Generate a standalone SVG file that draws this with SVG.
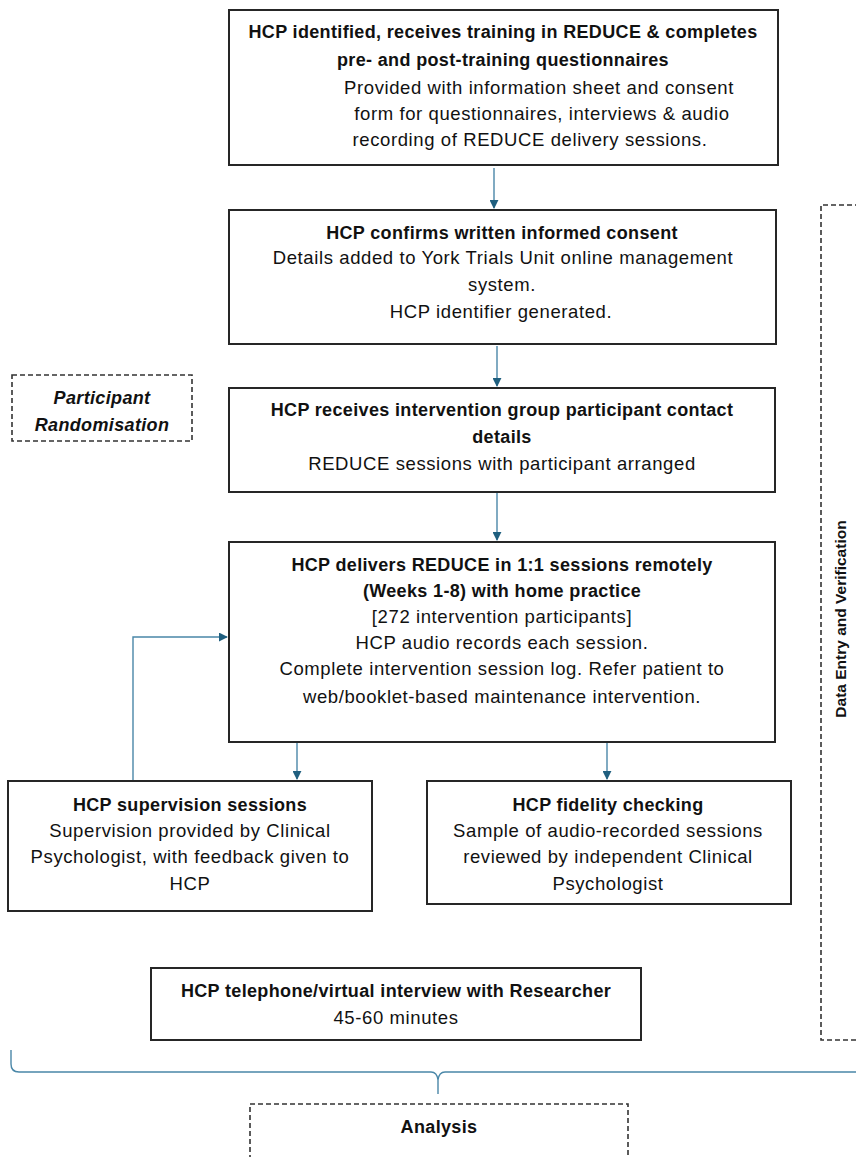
<svg xmlns="http://www.w3.org/2000/svg" width="856" height="1157" viewBox="0 0 856 1157">
<defs>
<style>
.box{fill:#fff;stroke:#262626;stroke-width:2}
.dash{fill:#fff;stroke:#333;stroke-width:1.6;stroke-dasharray:5,3}
.t{font-family:"Liberation Sans",Arial,sans-serif;font-size:18.5px;letter-spacing:0.6px;fill:#111;text-anchor:middle}
.b{font-weight:bold;font-size:18px;letter-spacing:0.35px}
.con{fill:none;stroke:#4a87a8;stroke-width:1.4}
</style>
<marker id="ah" viewBox="0 0 10 10" refX="9" refY="5" markerWidth="9" markerHeight="9" markerUnits="userSpaceOnUse" orient="auto">
<path d="M0,0 L10,5 L0,10 z" fill="#1f5f7f"/>
</marker>
</defs>
<rect width="856" height="1157" fill="#fff"/>

<g id="connectors">
<line class="con" x1="494" y1="168" x2="494" y2="208" marker-end="url(#ah)"/>
<line class="con" x1="497" y1="346" x2="497" y2="386" marker-end="url(#ah)"/>
<line class="con" x1="497" y1="493" x2="497" y2="540" marker-end="url(#ah)"/>
<polyline class="con" points="133,780 133,637 227,637" marker-end="url(#ah)"/>
<line class="con" x1="297" y1="743" x2="297" y2="779" marker-end="url(#ah)"/>
<line class="con" x1="607" y1="743" x2="607" y2="779" marker-end="url(#ah)"/>
<path class="con" d="M11,1050 L11,1064 Q11,1072 19,1072 L431,1072 Q437,1072 438,1080 L438,1094 M438,1080 Q439,1072 445,1072 L856,1072"/>
</g>

<g id="n1">
<rect class="box" x="229" y="10" width="549" height="155"/>
<text class="t b" x="503" y="38">HCP identified, receives training in REDUCE &amp; completes</text>
<text class="t b" x="503" y="66">pre- and post-training questionnaires</text>
<text class="t" x="539" y="94">Provided with information sheet and consent</text>
<text class="t" x="542" y="120">form for questionnaires, interviews &amp; audio</text>
<text class="t" x="530" y="146">recording of REDUCE delivery sessions.</text>
</g>

<g id="n2">
<rect class="box" x="229" y="210" width="547" height="134"/>
<text class="t b" x="502" y="239">HCP confirms written informed consent</text>
<text class="t" x="503" y="264">Details added to York Trials Unit online management</text>
<text class="t" x="502" y="291">system.</text>
<text class="t" x="501" y="318">HCP identifier generated.</text>
</g>

<g id="n_rand">
<rect class="dash" x="12" y="375" width="180" height="66"/>
<text class="t b" x="102" y="404" font-style="italic">Participant</text>
<text class="t b" x="102" y="431" font-style="italic">Randomisation</text>
</g>

<g id="n3">
<rect class="box" x="229" y="388" width="546" height="104"/>
<text class="t b" x="502" y="416">HCP receives intervention group participant contact</text>
<text class="t b" x="502" y="443">details</text>
<text class="t" x="502" y="470">REDUCE sessions with participant arranged</text>
</g>

<g id="n4">
<rect class="box" x="229" y="542" width="546" height="200"/>
<text class="t b" x="502" y="571">HCP delivers REDUCE in 1:1 sessions remotely</text>
<text class="t b" x="502" y="597">(Weeks 1-8) with home practice</text>
<text class="t" x="502" y="623">[272 intervention participants]</text>
<text class="t" x="502" y="649">HCP audio records each session.</text>
<text class="t" x="502" y="675">Complete intervention session log. Refer patient to</text>
<text class="t" x="502" y="703">web/booklet-based maintenance intervention.</text>
</g>

<g id="n5">
<rect class="box" x="8" y="781" width="364" height="130"/>
<text class="t b" x="190" y="811">HCP supervision sessions</text>
<text class="t" x="190" y="837">Supervision provided by Clinical</text>
<text class="t" x="190" y="863">Psychologist, with feedback given to</text>
<text class="t" x="190" y="890">HCP</text>
</g>

<g id="n6">
<rect class="box" x="427" y="781" width="364" height="123"/>
<text class="t b" x="608" y="811">HCP fidelity checking</text>
<text class="t" x="608" y="837">Sample of audio-recorded sessions</text>
<text class="t" x="608" y="863">reviewed by independent Clinical</text>
<text class="t" x="608" y="890">Psychologist</text>
</g>

<g id="n7">
<rect class="box" x="151" y="968" width="490" height="72"/>
<text class="t b" x="396" y="997">HCP telephone/virtual interview with Researcher</text>
<text class="t" x="396" y="1024">45-60 minutes</text>
</g>

<g id="n_data">
<path class="dash" d="M860,205 L821,205 L821,1040 L860,1040" />
<text class="t b" transform="translate(846,619) rotate(-90)" style="font-size:15.5px;letter-spacing:0">Data Entry and Verification</text>
</g>

<g id="n_analysis">
<rect class="dash" x="250" y="1104" width="378" height="70"/>
<text class="t b" x="439" y="1133">Analysis</text>
</g>
</svg>
